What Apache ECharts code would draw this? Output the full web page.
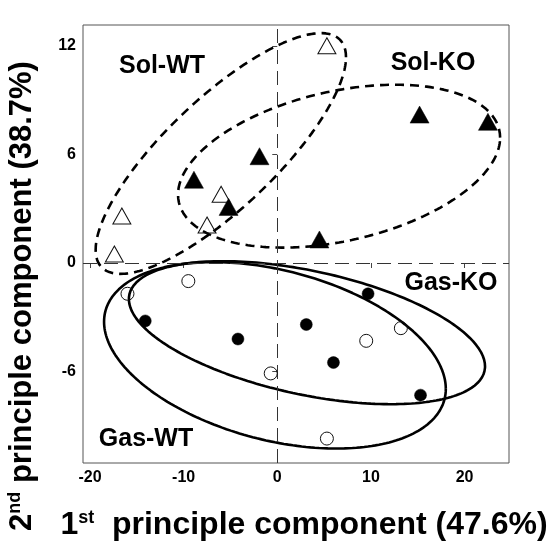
<!DOCTYPE html>
<html>
<head>
<meta charset="utf-8">
<script src="https://cdn.jsdelivr.net/npm/echarts@6/dist/echarts.min.js"></script>
<style>
html,body{margin:0;padding:0;background:#fff;}
#main{width:554px;height:546px;}
</style>
</head>
<body>
<div id="main"></div>
<script>
// ---- data ----
const xTicks = [-20, -10, 0, 10, 20];
const yTicks = [-6, 0, 6, 12];
const solWT = [[5.3, 12.0], [-16.6, 2.6], [-17.4, 0.5], [-6.0, 3.8], [-7.5, 2.1]];
const solKO = [[-8.9, 4.6], [-5.2, 3.1], [-1.9, 5.9], [15.2, 8.2], [22.5, 7.8], [4.5, 1.3]];
const gasWT = [[-9.5, -1.0], [-16.0, -1.7], [-0.7, -6.1], [13.2, -3.6], [9.5, -4.3], [5.3, -9.7]];
const gasKO = [[-14.1, -3.2], [-4.2, -4.2], [3.1, -3.4], [9.7, -1.7], [6.0, -5.5], [15.3, -7.3]];
// ellipse outlines: [centre x, centre y, half-width x, half-height y, cos(phase)]
const solWTEllipse = [-6.03, 6.05, 13.37, 6.65, 0.80];
const solKOEllipse = [6.6, 5.35, 17.2, 4.5, 0.35];
const gasWTEllipse = [-0.25, -5.1, 18.25, 5.15, -0.36];
const gasKOEllipse = [3.17, -3.85, 19.02, 3.95, -0.47];
const groupLabels = ['Sol-WT', 'Sol-KO', 'Gas-KO', 'Gas-WT'];

function ellipsePts(p) {
  const [cx, cy, ax, ay, c] = p;
  const phi = Math.acos(c);
  const out = [];
  const n = 240;
  for (let i = 0; i <= n; i++) {
    const t = 2 * Math.PI * i / n;
    out.push([cx + ax * Math.cos(t), cy + ay * Math.cos(t - phi)]);
  }
  return out;
}

const FONT = "'Liberation Sans', Arial, sans-serif";
const chart = echarts.init(document.getElementById('main'), null, {renderer: 'canvas'});

function ellSeries(p, dashed) {
  return {
    type: 'line', data: ellipsePts(p), showSymbol: false, symbol: 'none',
    smooth: false, silent: true, z: 3,
    lineStyle: {color: '#000', width: 2.6, type: dashed ? [9, 6] : 'solid', opacity: 1}
  };
}
function ptSeries(d, sym, filled, size) {
  return {
    type: 'scatter', data: d, symbol: sym, symbolSize: size, z: 5,
    itemStyle: filled ? {color: '#000', borderColor: '#000', borderWidth: 0.5, opacity: 1}
                      : {color: 'rgba(255,255,255,0)', borderColor: '#111', borderWidth: 1, opacity: 1}
  };
}

const option = {
  animation: false,
  backgroundColor: '#fff',
  grid: {left: 83, right: 45, top: 25, bottom: 83, show: true, borderColor: '#555', borderWidth: 1, containLabel: false},
  xAxis: {
    type: 'value', min: -20.75, max: 24.75,
    splitLine: {show: false}, axisLine: {show: false},
    axisTick: {show: true, length: 5, customValues: xTicks, lineStyle: {color: '#444'}},
    axisLabel: {customValues: xTicks, color: '#000', fontWeight: 'bold', fontSize: 16, fontFamily: FONT, margin: 7}
  },
  yAxis: {
    type: 'value', min: -11.05, max: 13.15,
    splitLine: {show: false}, axisLine: {show: false},
    axisTick: {show: true, length: 5, customValues: yTicks, lineStyle: {color: '#444'}},
    axisLabel: {customValues: yTicks, color: '#000', fontWeight: 'bold', fontSize: 16, fontFamily: FONT, margin: 7}
  },
  series: [
    {
      type: 'line', data: [], silent: true,
      markLine: {
        silent: true, symbol: 'none', label: {show: false},
        lineStyle: {color: '#333', width: 1, type: [14, 7]},
        data: [{xAxis: 0}, {yAxis: 0}]
      }
    },
    ellSeries(solWTEllipse, true),
    ellSeries(solKOEllipse, true),
    ellSeries(gasWTEllipse, false),
    ellSeries(gasKOEllipse, false),
    ptSeries(solWT, 'triangle', false, [18, 16]),
    ptSeries(solKO, 'triangle', true, [19, 17]),
    ptSeries(gasWT, 'circle', false, 13),
    ptSeries(gasKO, 'circle', true, 12)
  ],
  graphic: [
    {type: 'text', x: 162, y: 66, style: {text: groupLabels[0], font: 'bold 25px ' + FONT, fill: '#000', align: 'center', verticalAlign: 'middle'}},
    {type: 'text', x: 433, y: 63, style: {text: groupLabels[1], font: 'bold 25px ' + FONT, fill: '#000', align: 'center', verticalAlign: 'middle'}},
    {type: 'text', x: 451, y: 283, style: {text: groupLabels[2], font: 'bold 25px ' + FONT, fill: '#000', align: 'center', verticalAlign: 'middle'}},
    {type: 'text', x: 146, y: 439, style: {text: groupLabels[3], font: 'bold 25px ' + FONT, fill: '#000', align: 'center', verticalAlign: 'middle'}},
    {type: 'text', x: 304, y: 525, style: {
      text: '{a|1}{s|st}{a|  principle component (47.6%)}', align: 'center', verticalAlign: 'middle',
      rich: {a: {font: 'bold 32px ' + FONT, fill: '#000', verticalAlign: 'bottom'}, s: {font: 'bold 18px ' + FONT, fill: '#000', verticalAlign: 'top'}}
    }},
    {type: 'text', x: 22, y: 296, rotation: Math.PI / 2, style: {
      text: '{a|2}{s|nd}{a| principle component (38.7%)}', align: 'center', verticalAlign: 'middle',
      rich: {a: {font: 'bold 31px ' + FONT, fill: '#000', verticalAlign: 'bottom'}, s: {font: 'bold 18px ' + FONT, fill: '#000', verticalAlign: 'top'}}
    }}
  ]
};
chart.setOption(option);
</script>
</body>
</html>
